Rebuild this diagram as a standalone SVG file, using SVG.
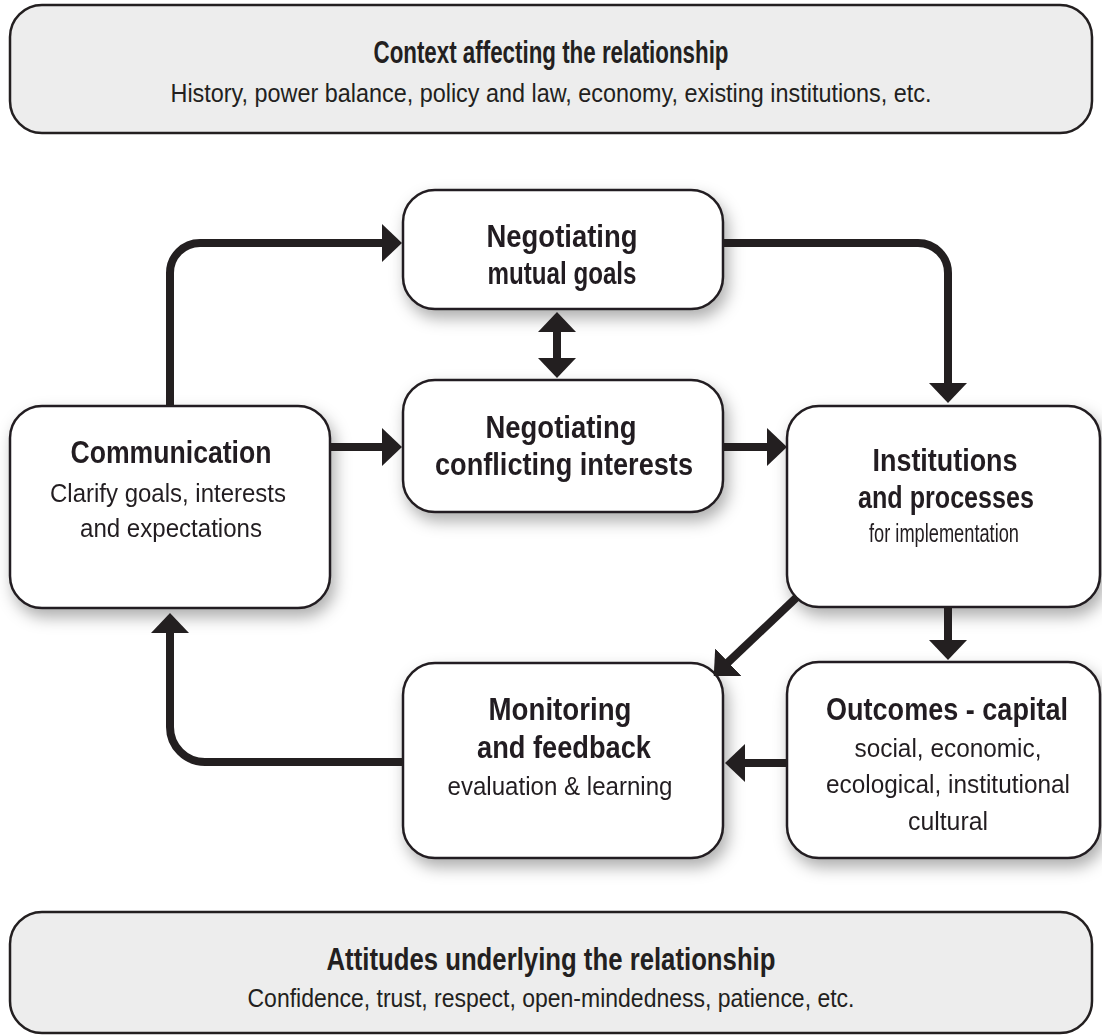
<svg xmlns="http://www.w3.org/2000/svg" width="1102" height="1036" viewBox="0 0 1102 1036">
<defs>
<filter id="sh" x="-20%" y="-20%" width="150%" height="160%">
<feDropShadow dx="4" dy="8" stdDeviation="8" flood-color="#000" flood-opacity="0.32"/>
</filter>
<marker id="ah" markerUnits="userSpaceOnUse" markerWidth="20" markerHeight="38" refX="10" refY="19" orient="auto-start-reverse" viewBox="0 0 20 38">
<path d="M0,0 L20,19 L0,38 Z" fill="#231f20"/>
</marker>
</defs>
<style>
.box{fill:#fff;stroke:#231f20;stroke-width:2.5}
.gbox{fill:#ededed;stroke:#231f20;stroke-width:2.5}
text{font-family:"Liberation Sans Narrow","Liberation Sans",Arial,sans-serif;fill:#231f20;text-anchor:middle}
.t{font-weight:bold;font-size:31px}
.s{font-size:25.5px}
.c{fill:none;stroke:#231f20;stroke-width:8}
</style>
<g id="context">
<rect class="gbox" x="10" y="5" width="1082" height="128" rx="32"/>
<text class="t" x="551" y="63" textLength="355" lengthAdjust="spacingAndGlyphs">Context affecting the relationship</text>
<text class="s" x="551" y="102" textLength="761" lengthAdjust="spacingAndGlyphs">History, power balance, policy and law, economy, existing institutions, etc.</text>
</g>
<g id="mutual" filter="url(#sh)">
<rect class="box" x="403" y="190" width="320" height="119" rx="32"/>
<text class="t" x="562" y="247" textLength="151" lengthAdjust="spacingAndGlyphs">Negotiating</text>
<text class="t" x="562" y="284" textLength="149" lengthAdjust="spacingAndGlyphs">mutual goals</text>
</g>
<g id="conflicting" filter="url(#sh)">
<rect class="box" x="403" y="380" width="320" height="132" rx="32"/>
<text class="t" x="561" y="438" textLength="151" lengthAdjust="spacingAndGlyphs">Negotiating</text>
<text class="t" x="564" y="475" textLength="258" lengthAdjust="spacingAndGlyphs">conflicting interests</text>
</g>
<g id="communication" filter="url(#sh)">
<rect class="box" x="10" y="406" width="320" height="202" rx="32"/>
<text class="t" x="171" y="463" textLength="201" lengthAdjust="spacingAndGlyphs">Communication</text>
<text class="s" x="168" y="502" textLength="236" lengthAdjust="spacingAndGlyphs">Clarify goals, interests</text>
<text class="s" x="171" y="537" textLength="182" lengthAdjust="spacingAndGlyphs">and expectations</text>
</g>
<g id="institutions" filter="url(#sh)">
<rect class="box" x="787" y="406" width="313" height="201" rx="32"/>
<text class="t" x="945" y="471" textLength="145" lengthAdjust="spacingAndGlyphs">Institutions</text>
<text class="t" x="946" y="508" textLength="176" lengthAdjust="spacingAndGlyphs">and processes</text>
<text class="s" x="944" y="542" textLength="150" lengthAdjust="spacingAndGlyphs">for implementation</text>
</g>
<g id="monitoring" filter="url(#sh)">
<rect class="box" x="403" y="663" width="320" height="195" rx="32"/>
<text class="t" x="560" y="720" textLength="143" lengthAdjust="spacingAndGlyphs">Monitoring</text>
<text class="t" x="564" y="758" textLength="174" lengthAdjust="spacingAndGlyphs">and feedback</text>
<text class="s" x="560" y="795" textLength="225" lengthAdjust="spacingAndGlyphs">evaluation &amp; learning</text>
</g>
<g id="outcomes" filter="url(#sh)">
<rect class="box" x="787" y="662" width="313" height="196" rx="32"/>
<text class="t" x="947" y="720" textLength="242" lengthAdjust="spacingAndGlyphs">Outcomes - capital</text>
<text class="s" x="948" y="757" textLength="187" lengthAdjust="spacingAndGlyphs">social, economic,</text>
<text class="s" x="948" y="793" textLength="244" lengthAdjust="spacingAndGlyphs">ecological, institutional</text>
<text class="s" x="948" y="830" textLength="80" lengthAdjust="spacingAndGlyphs">cultural</text>
</g>
<g id="attitudes">
<rect class="gbox" x="10" y="912" width="1082" height="121" rx="32"/>
<text class="t" x="551" y="970" textLength="449" lengthAdjust="spacingAndGlyphs">Attitudes underlying the relationship</text>
<text class="s" x="551" y="1007" textLength="607" lengthAdjust="spacingAndGlyphs">Confidence, trust, respect, open-mindedness, patience, etc.</text>
</g>
<g id="connectors">
<path class="c" d="M170,406 V273 A30,30 0 0 1 200,243 H392" marker-end="url(#ah)"/>
<path class="c" d="M723,243 H918 A30,30 0 0 1 948,273 V393" marker-end="url(#ah)"/>
<path class="c" d="M557,322 V368" marker-start="url(#ah)" marker-end="url(#ah)"/>
<path class="c" d="M330,447 H392" marker-end="url(#ah)"/>
<path class="c" d="M723,447 H777" marker-end="url(#ah)"/>
<path class="c" d="M948,607 V650" marker-end="url(#ah)"/>
<path class="c" d="M797,597 L721,669" marker-end="url(#ah)"/>
<path class="c" d="M787,763 H735" marker-end="url(#ah)"/>
<path class="c" d="M403,762 H205 A35,35 0 0 1 170,727 V623" marker-end="url(#ah)"/>
</g>
</svg>
